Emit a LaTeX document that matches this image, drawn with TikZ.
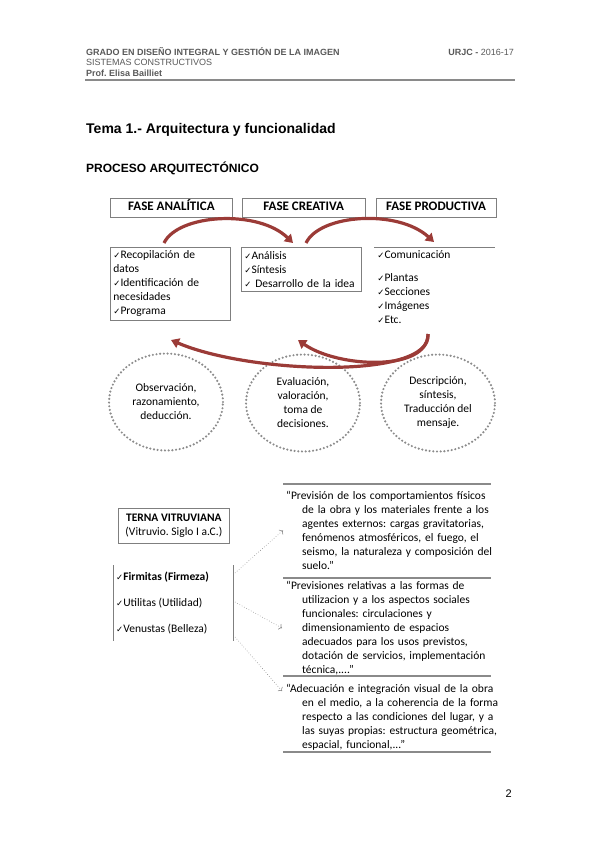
\documentclass[tikz,border=0pt]{standalone}
\usepackage{fontspec}
\setmainfont{Carlito}
\newfontfamily\arialfont{Liberation Sans}
\newfontfamily\symfont{DejaVu Sans}
\usetikzlibrary{arrows.meta,positioning,shapes.geometric,calc}
\definecolor{headgray}{HTML}{595959}
\definecolor{boxgray}{HTML}{7F7F7F}
\definecolor{arrowred}{HTML}{9B3B37}
\definecolor{dotgray}{HTML}{8C8C8C}
\definecolor{rulegray}{HTML}{8A8A8A}
\newcommand{\chk}{{\symfont\fontsize{8.5}{8.5}\selectfont ✓}}
\newcommand{\hang}{\hspace*{16pt}}
\frenchspacing

\begin{document}
\begin{tikzpicture}[
  x=1pt, y=-1pt,
  body/.style={font=\fontsize{11.5}{14}\selectfont},
  header/.style={
    font=\arialfont\fontsize{9}{10}\selectfont,
    text=headgray,
    inner sep=0pt,
    anchor=base west
  },
  phase/.style={
    rectangle,
    draw=boxgray,
    line width=0.8pt,
    minimum height=19pt,
    text height=9.5pt,
    text depth=2.5pt,
    inner sep=0pt,
    anchor=north west,
    font=\bfseries\fontsize{13}{15}\selectfont
  },
  listbox/.style={
    rectangle,
    draw=boxgray,
    line width=0.8pt,
    body,
    align=left,
    inner sep=3pt,
    anchor=north west
  },
  idea/.style={
    ellipse,
    draw=dotgray,
    line width=2.4pt,
    line cap=round,
    dash pattern=on 0pt off 3.7pt,
    minimum width=114pt,
    minimum height=97pt,
    inner sep=0pt,
    body,
    align=center
  },
  quote/.style={body,inner sep=0pt,anchor=north west,text width=216pt,align=left},
  item/.style={body,inner sep=0pt,anchor=west},
  boxline/.style={draw=boxgray,line width=0.8pt},
  rule/.style={draw=rulegray,line width=1.2pt},
  flow/.style={draw=arrowred,line width=3.2pt,-{Triangle[length=8pt,width=10pt]}},
  link/.style={draw=dotgray,line width=0.6pt,dotted,-{To[length=3pt]}}
]
\useasboundingbox (0,0) rectangle (599,848);

% page header
\node[header] (grado) at (86,55.5) {\bfseries GRADO EN DISEÑO INTEGRAL Y GESTIÓN DE LA IMAGEN};
\node[header,anchor=base east] (curso) at (514,55.5) {\bfseries URJC - \mdseries 2016-17};
\node[header] (asignatura) at (86,66) {SISTEMAS CONSTRUCTIVOS};
\node[header] (profesora) at (86,76.5) {\bfseries Prof. Elisa Bailliet};
\draw[rule] (85,80) -- (515,80);

\node[anchor=base west,inner sep=0pt,font=\arialfont\bfseries\fontsize{14}{16}\selectfont] (tema) at (86,133) {Tema 1.- Arquitectura y funcionalidad};
\node[anchor=base west,inner sep=0pt,font=\arialfont\bfseries\fontsize{12}{14}\selectfont] (proceso) at (86,172) {PROCESO ARQUITECTÓNICO};

% phases
\node[phase,minimum width=122pt] (analitica) at (110,197.5) {FASE ANALÍTICA};
\node[phase,minimum width=123pt,right=9pt of analitica] (creativa) {FASE CREATIVA};
\node[phase,minimum width=120pt,right=10pt of creativa] (productiva) {FASE PRODUCTIVA};

\node[listbox,text width=114pt,minimum height=73pt] (analisisbox) at (110,247)
  {\chk Recopilación de\\datos\\\chk Identificación de\\necesidades\\\chk Programa};
\node[listbox,text width=114pt,minimum height=44pt] (creativabox) at (241,247)
  {\chk Análisis\\\chk Síntesis\\\chk{} Desarrollo de la idea};
\node[listbox,draw=none,text width=114pt] (productivabox) at (374,247)
  {\chk Comunicación\\[9pt]\chk Plantas\\\chk Secciones\\\chk Imágenes\\\chk Etc.};
\draw[boxline] (productivabox.north west) -- (productivabox.north east);

% curved arrows
\coordinate (tailA) at (164,243);
\coordinate (tipB) at (293,243);
\coordinate (tailB) at (306,243);
\coordinate (tipC) at (434,242);
\draw[flow] (tailA) .. controls (178,214) and (258,209) .. (tipB);
\draw[flow] (tailB) .. controls (320,214) and (398,209) .. (tipC);

% ways of thinking
\node[idea] (observacion) at (166,402) {Observación,\\razonamiento,\\deducción.};
\node[idea] (evaluacion) at (303,403) {Evaluación,\\valoración,\\toma de\\decisiones.};
\node[idea] (descripcion) at (438,403) {Descripción,\\síntesis,\\Traducción del\\mensaje.};

\coordinate (tailC) at (428,334);
\coordinate (tipObs) at (171,340);
\coordinate (tipEval) at (298,340);
\draw[flow] (tailC) .. controls (432,380) and (250,374) .. (tipObs);
\draw[flow] (tailC) .. controls (428,372) and (338,368) .. (tipEval);

% terna vitruviana
\node[rectangle,draw=boxgray,line width=0.8pt,body,align=center,minimum width=111pt,
  minimum height=35pt,inner sep=2pt,anchor=north west] (terna) at (118,508)
  {\textbf{TERNA VITRUVIANA}\\(Vitruvio. Siglo I a.C.)};

\node[item] (firmitas) at (116,577) {\bfseries\chk Firmitas (Firmeza)};
\node[item] (utilitas) at (116,603) {\chk Utilitas (Utilidad)};
\node[item] (venustas) at (116,629) {\chk Venustas (Belleza)};
\coordinate (listtopL) at (113,565);
\coordinate (listbotL) at (113,641);
\coordinate (listtopR) at (233,565);
\coordinate (listbotR) at (233,641);
\draw[boxline] (listtopL) -- (listbotL);
\draw[boxline] (listtopR) -- (listbotR);

% quotations
\draw[rule] (283,484) -- (491,484);
\node[quote] (fisica) at (286,491)
  {“Previsión de los comportamientos físicos\\\hang de la obra y los materiales frente a los\\
  \hang agentes externos: cargas gravitatorias,\\\hang fenómenos atmosféricos, el fuego, el\\
  \hang seismo, la naturaleza y composición del\\\hang suelo.”};
\draw[rule] (283,578) -- (491,578);
\node[quote] (funcion) at (286,581)
  {“Previsiones relativas a las formas de\\\hang utilizacion y a los aspectos sociales\\
  \hang funcionales: circulaciones y\\\hang dimensionamiento de espacios\\
  \hang adecuados para los usos previstos,\\\hang dotación de servicios, implementación\\
  \hang técnica,....”};
\draw[rule] (283,676) -- (491,676);
\node[quote] (adecuacion) at (286,684)
  {“Adecuación e integración visual de la obra\\\hang en el medio, a la coherencia de la forma\\
  \hang respecto a las condiciones del lugar, y a\\\hang las suyas propias: estructura geométrica,\\
  \hang espacial, funcional,...”};
\draw[rule] (283,752) -- (491,752);

\draw[link] ($(firmitas -| listtopR)+(2,-4)$) -- ($(fisica.west)+(-3,0)$);
\draw[link] ($(utilitas -| listtopR)+(2,-1)$) -- ($(funcion.west)+(-4,0)$);
\draw[link] ($(listbotR)+(2,-4)$) -- ($(adecuacion.north west)+(-4,7)$);

\node[anchor=base east,inner sep=0pt,font=\arialfont\fontsize{11}{12}\selectfont] (pagina) at (512,797) {2};
\end{tikzpicture}
\end{document}
